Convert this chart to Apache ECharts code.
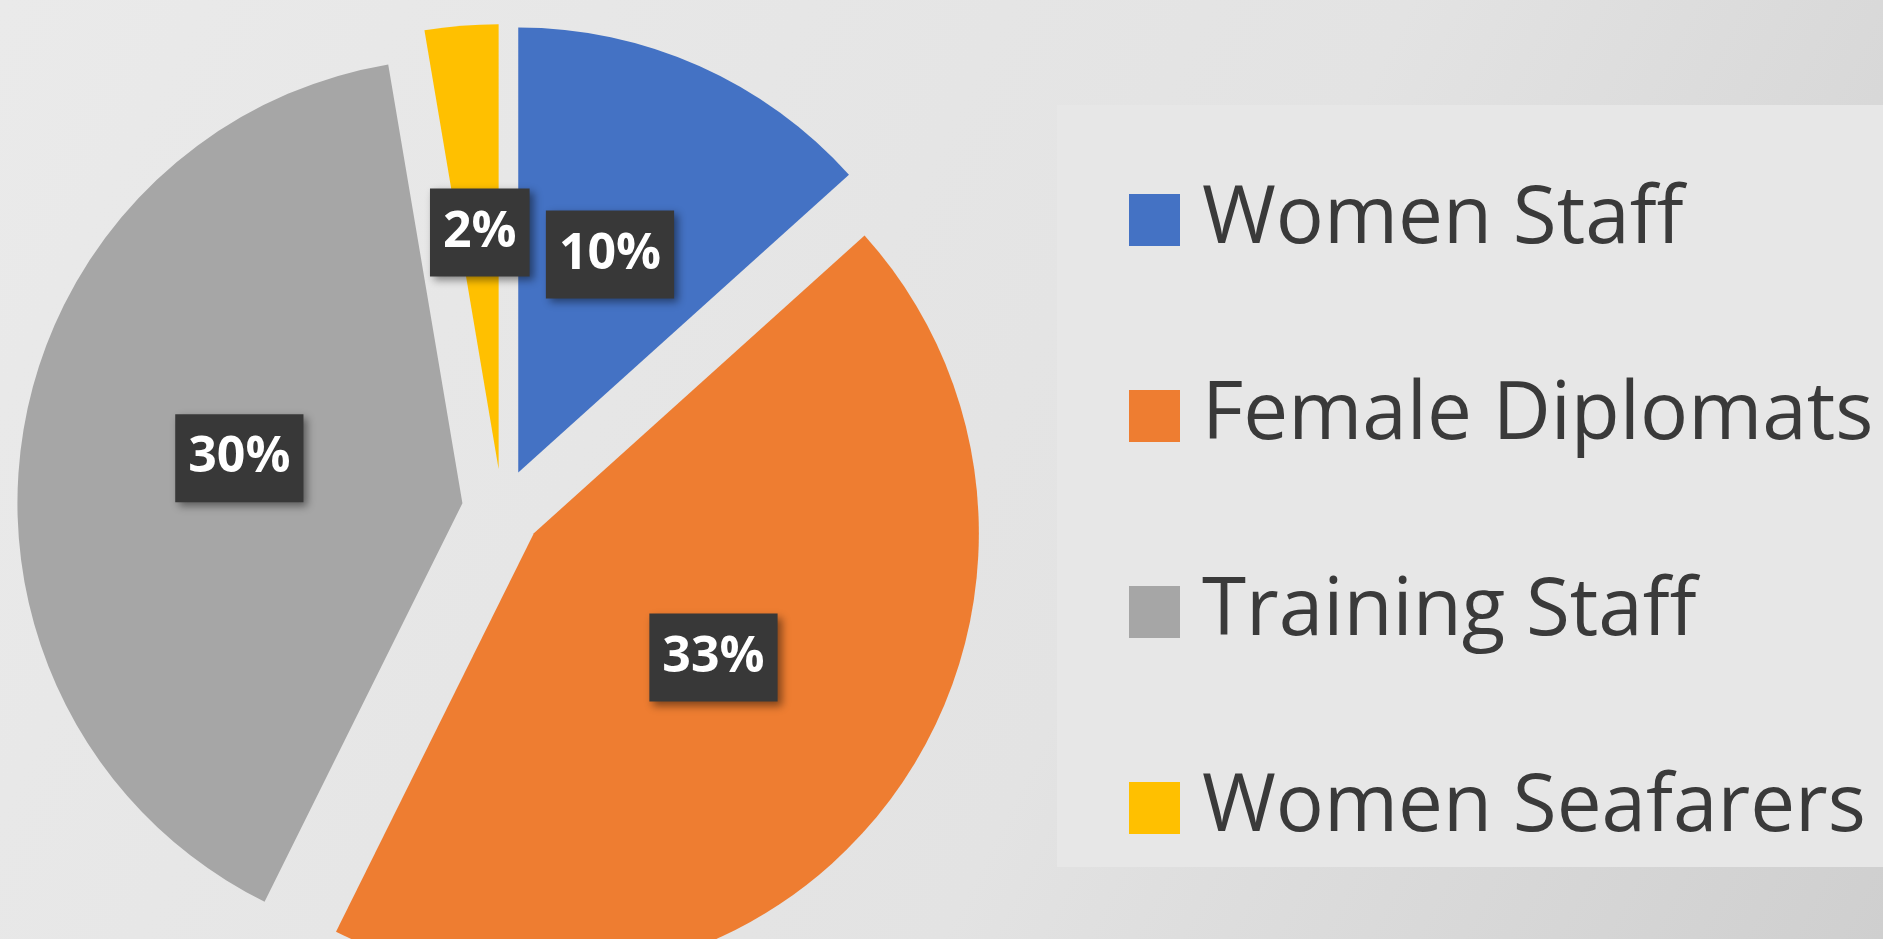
<!DOCTYPE html>
<html lang="en">
  <head>
    <meta charset="utf-8" />
    <title>Women share</title>
    <script src="https://cdn.jsdelivr.net/npm/echarts@6/dist/echarts.min.js"></script>
    <style>
      html,
      body {
        margin: 0;
        padding: 0;
        background: #e3e3e3;
      }
      #chart {
        width: 1883px;
        height: 939px;
      }
    </style>
  </head>
  <body>
    <div id="chart"></div>
    <script type="text/javascript">
      // categories and values (percent labels as shown)
      const categories = ["Women Staff", "Female Diplomats", "Training Staff", "Women Seafarers"];
      const values = [10, 33, 30, 2];
      const colors = ["#4472c4", "#ee7d31", "#a6a6a6", "#ffc000"];

      const chart = echarts.init(document.getElementById("chart"));

      const pieData = categories.map((name, i) => ({
        name: name,
        value: values[i],
        selected: true,
        itemStyle: { color: colors[i] },
        select: { itemStyle: { color: colors[i] } },
      }));

      const opt = {
        backgroundColor: {
          type: "linear",
          x: 0,
          y: 0,
          x2: 1,
          y2: 1,
          colorStops: [
            { offset: 0, color: "#eaeaea" },
            { offset: 0.6, color: "#e3e3e3" },
            { offset: 1, color: "#cfcfcf" },
          ],
        },
        animation: false,
        graphic: [
          {
            type: "rect",
            shape: { x: 1057, y: 105, width: 830, height: 762 },
            style: { fill: "#e7e7e7" },
            z: 0,
          },
        ],
        legend: {
          orient: "vertical",
          left: 1124,
          top: 175,
          icon: "rect",
          itemWidth: 51,
          itemHeight: 52,
          itemGap: 116,
          selectedMode: false,
          textStyle: {
            fontFamily: "Open Sans",
            fontSize: 80,
            color: "#3a3a3a",
            padding: [0, 0, 0, 17],
          },
          data: categories,
        },
        series: [
          {
            type: "pie",
            center: [502, 509],
            radius: [0, 445],
            startAngle: 90,
            clockwise: true,
            selectedMode: "multiple",
            selectedOffset: 40,
            avoidLabelOverlap: false,
            minShowLabelAngle: 0,
            emphasis: { disabled: true },
            labelLayout: { hideOverlap: false, dy: -12 },
            label: {
              show: true,
              position: "inside",
              rotate: 0,
              formatter: "{c}%",
              fontFamily: "Open Sans",
              fontWeight: "bold",
              fontSize: 50,
              lineHeight: 52,
              color: "#ffffff",
              backgroundColor: "#383838",
              padding: [18, 13],
              shadowBlur: 8,
              shadowColor: "rgba(0,0,0,0.45)",
              shadowOffsetX: 4,
              shadowOffsetY: 4,
            },
            labelLine: { show: false },
            data: pieData,
          },
        ],
      };
      chart.setOption(opt);
    </script>
  </body>
</html>
